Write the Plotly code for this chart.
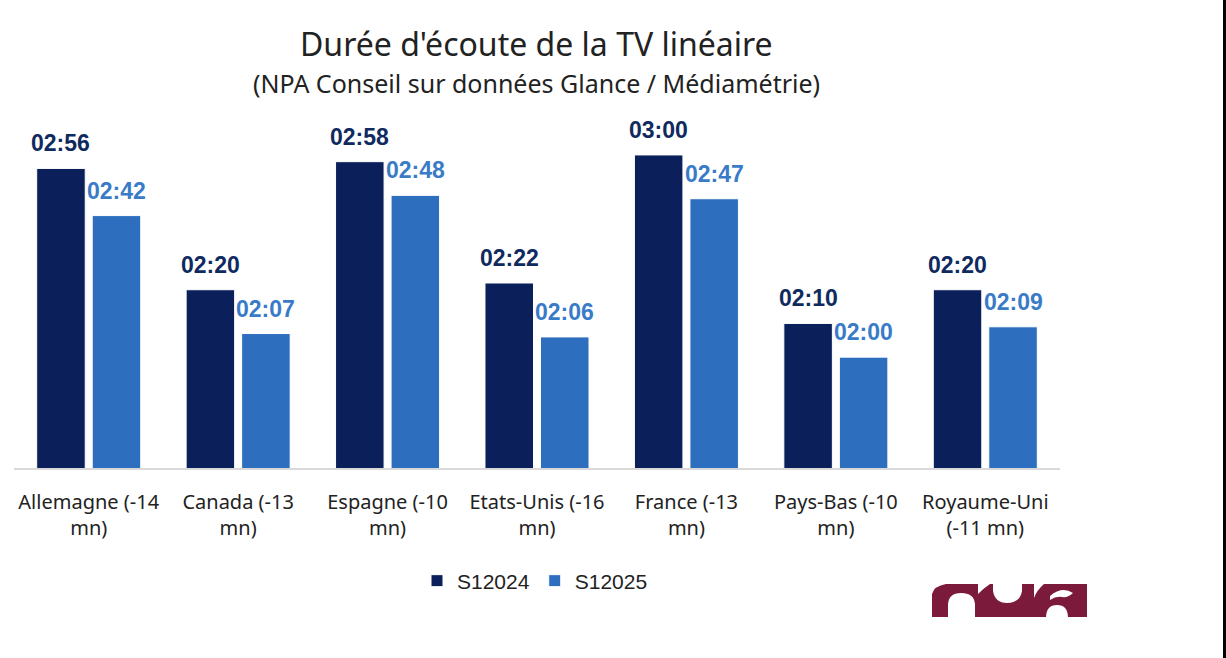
import plotly.graph_objects as go

categories = ["Allemagne (-14<br>mn)", "Canada (-13<br>mn)", "Espagne (-10<br>mn)",
              "Etats-Unis (-16<br>mn)", "France (-13<br>mn)", "Pays-Bas (-10<br>mn)",
              "Royaume-Uni<br>(-11 mn)"]
s2024 = ["02:56", "02:20", "02:58", "02:22", "03:00", "02:10", "02:20"]
s2025 = ["02:42", "02:07", "02:48", "02:06", "02:47", "02:00", "02:09"]
series_names = ["S12024", "S12025"]


def to_min(t):
    h, m = t.split(":")
    return int(h) * 60 + int(m)


v2024 = [to_min(t) for t in s2024]
v2025 = [to_min(t) for t in s2025]

C_DARK = "#0B1F5B"
C_BLUE = "#2E6EBE"
BARGAP = 0.257
GROUPGAP = 0.126

fig = go.Figure()
for name, vals, col in [(series_names[0], v2024, C_DARK), (series_names[1], v2025, C_BLUE)]:
    fig.add_trace(go.Bar(x=categories, y=vals, name=name,
                         marker=dict(color=col, line=dict(color="white", width=1)),
                         hoverinfo="skip"))

# data labels
slot = (1 - BARGAP) / 2
offs = [-slot / 2, slot / 2]
anns = []
for k, (labels, vals, col) in enumerate([(s2024, v2024, "#0F2A5E"), (s2025, v2025, "#3A7BC8")]):
    for i, (lab, v) in enumerate(zip(labels, vals)):
        anns.append(dict(x=i + offs[k], y=v, xref="x", yref="y", text="<b>" + lab + "</b>",
                         showarrow=False, yanchor="bottom", yshift=10,
                         font=dict(family="Liberation Sans, Arial", size=23, color=col)))

W, H = 1226, 658
L, R, T, B = 14, 166, 120, 190
pw, ph = W - L - R, H - T - B


def px(x):
    return (x - L) / pw


def py(y):
    return (H - B - y) / ph


anns.append(dict(x=px(536), y=py(43), xref="paper", yref="paper", xanchor="center", yanchor="middle",
                 text="Durée d'écoute de la TV linéaire", showarrow=False,
                 font=dict(family="Noto Sans", size=32, color="#222222")))
anns.append(dict(x=px(536), y=py(83), xref="paper", yref="paper", xanchor="center", yanchor="middle",
                 text="(NPA Conseil sur données Glance / Médiamétrie)", showarrow=False,
                 font=dict(family="Noto Sans", size=25, color="#222222")))

shapes = [
    dict(type="rect", xref="paper", yref="paper", x0=px(1223), x1=px(1240), y0=py(700), y1=py(-40),
         fillcolor="black", line=dict(width=0)),
    dict(type="rect", xref="paper", yref="paper", x0=px(932), x1=px(1087), y0=py(617), y1=py(584),
         fillcolor="#7B1A3B", line=dict(width=0)),
]


def path(pts):
    s = ""
    for cmd, coords in pts:
        s += cmd + " " + " ".join(f"{px(a):.5f},{py(b):.5f}" for a, b in coords) + " "
    return s + "Z"


white = dict(fillcolor="white", line=dict(width=0), xref="paper", yref="paper", type="path")
shapes += [
    dict(path=path([("M", [(932, 584)]), ("L", [(946, 584)]), ("Q", [(934, 586), (932, 594)])]), **white),
    dict(path=path([("M", [(948, 618)]), ("L", [(948, 604)]), ("Q", [(949, 593), (961, 593)]),
                    ("Q", [(974, 593), (975, 604)]), ("L", [(975, 618)])]), **white),
    dict(path=path([("M", [(978, 584)]), ("L", [(990, 584)]), ("Q", [(984, 588), (978, 594)])]), **white),
    dict(path=path([("M", [(993, 584)]), ("L", [(993, 591)]), ("Q", [(995, 603), (1007, 603)]),
                    ("Q", [(1020, 603), (1022, 591)]), ("L", [(1022, 584)])]), **white),
    dict(path=path([("M", [(1034, 584)]), ("L", [(1044, 584)]), ("Q", [(1037, 590), (1034, 598)])]), **white),
    dict(path=path([("M", [(1050, 596)]), ("Q", [(1062, 586), (1073, 593)]), ("Q", [(1068, 598), (1062, 597)]),
                    ("Q", [(1056, 596), (1050, 600)])]), **white),
    dict(path=path([("M", [(1046, 618)]), ("Q", [(1046, 605), (1057, 605)]), ("Q", [(1068, 605), (1068, 618)])]), **white),
]

fig.update_layout(
    width=W, height=H, autosize=False,
    margin=dict(l=L, r=R, t=T, b=B, pad=0),
    paper_bgcolor="white", plot_bgcolor="white",
    barmode="group", bargap=BARGAP, bargroupgap=GROUPGAP,
    showlegend=True,
    legend=dict(orientation="h", x=px(535), xanchor="center", y=py(581), yanchor="middle",
                font=dict(family="Liberation Sans, Arial", size=21, color="#222222"),
                itemwidth=30, traceorder="normal"),
    annotations=anns, shapes=shapes,
    xaxis=dict(showline=True, linecolor="#D9D9D9", linewidth=2, showgrid=False,
               ticks="outside", ticklen=15, tickcolor="rgba(0,0,0,0)",
               tickfont=dict(family="Noto Sans", size=20, color="#222222")),
    yaxis=dict(visible=False, range=[87.1, 87.1 + ph / 3.37], showgrid=False, zeroline=False),
)

fig.write_html("out.html", config={"displayModeBar": False},
               post_script="document.body.style.margin='0';")
